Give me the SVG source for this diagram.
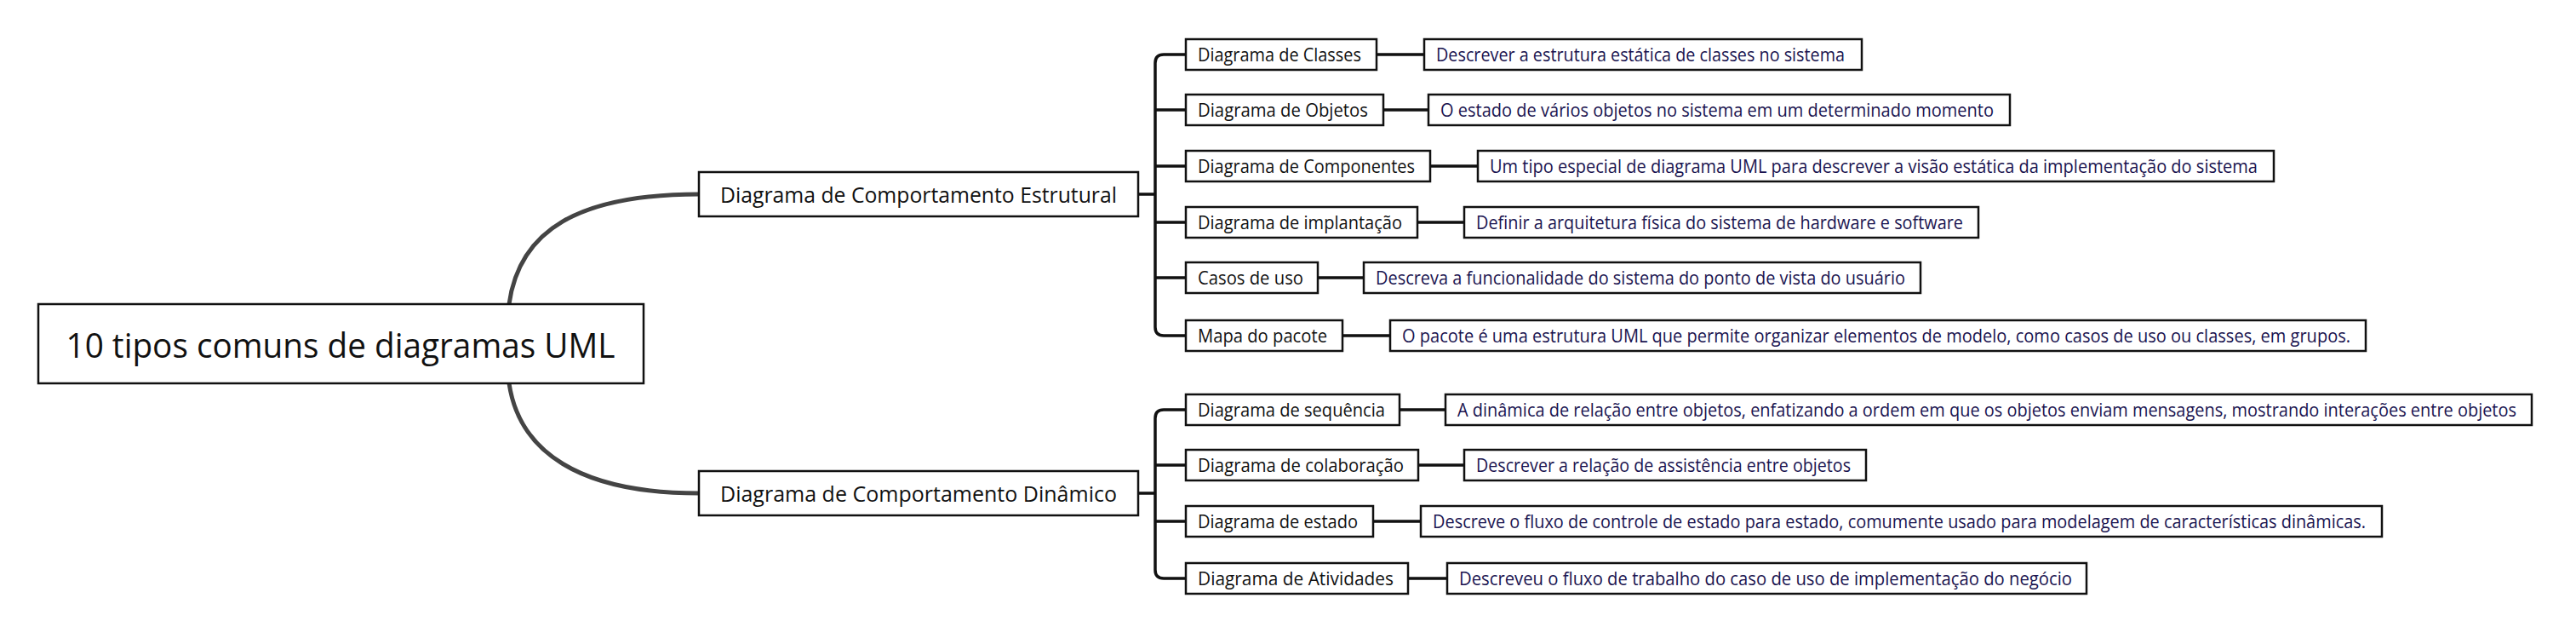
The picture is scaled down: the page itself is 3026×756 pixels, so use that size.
<svg xmlns="http://www.w3.org/2000/svg" width="3026" height="756" viewBox="0 0 3026 756">
<style>
.b{fill:#fff;stroke:#111;stroke-width:2.5}
.c{fill:none;stroke:#111;stroke-width:3.5}
.m{fill:none;stroke:#444;stroke-width:5}
text{font-family:"Open Sans","Noto Sans",sans-serif;dominant-baseline:central}
.l{font-size:21px;fill:#111}
.d{font-size:21px;fill:#1a1450}
</style>
<g id="connectors">
<path class="m" d="M598,357 C610,270 680,228 821,228"/>
<path class="m" d="M598,450 C610,530 680,579 821,579"/>
<path class="c" d="M1337,228 H1357"/>
<path class="c" d="M1337,579 H1357"/>
<path class="c" d="M1393,64 H1367 Q1357,64 1357,74 V384 Q1357,394 1367,394 H1393 M1357,129 H1393 M1357,195 H1393 M1357,261 H1393 M1357,326 H1393"/>
<path class="c" d="M1393,481 H1367 Q1357,481 1357,491 V669 Q1357,679 1367,679 H1393 M1357,546 H1393 M1357,612 H1393"/>
<path class="c" d="M1617,64H1673 M1625,129H1678 M1680,195H1736 M1665,261H1720 M1548,326H1602 M1577,394H1633 M1644,481H1698 M1666,546H1720 M1613,612H1669 M1654,679H1700"/>
</g>
<g id="root"><rect class="b" x="45" y="357" width="711" height="93" stroke-width="3.5"/><text x="400" y="404" font-size="40" text-anchor="middle" fill="#111" textLength="645" lengthAdjust="spacingAndGlyphs">10 tipos comuns de diagramas UML</text></g>
<g id="b1"><rect class="b" x="821" y="202" width="516" height="52"/><text x="1079" y="228" font-size="25" text-anchor="middle" fill="#111" textLength="466" lengthAdjust="spacingAndGlyphs">Diagrama de Comportamento Estrutural</text></g>
<g id="b2"><rect class="b" x="821" y="553" width="516" height="52"/><text x="1079" y="579" font-size="25" text-anchor="middle" fill="#111" textLength="466" lengthAdjust="spacingAndGlyphs">Diagrama de Comportamento Dinâmico</text></g>
<g id="n1"><rect class="b" x="1393" y="46" width="224" height="36"/><text class="l" x="1407" y="64" textLength="192" lengthAdjust="spacingAndGlyphs">Diagrama de Classes</text></g>
<g id="d1"><rect class="b" x="1673" y="46" width="514" height="36"/><text class="d" x="1687" y="64" textLength="480" lengthAdjust="spacingAndGlyphs">Descrever a estrutura estática de classes no sistema</text></g>
<g id="n2"><rect class="b" x="1393" y="111" width="232" height="36"/><text class="l" x="1407" y="129" textLength="200" lengthAdjust="spacingAndGlyphs">Diagrama de Objetos</text></g>
<g id="d2"><rect class="b" x="1678" y="111" width="683" height="36"/><text class="d" x="1692" y="129" textLength="650" lengthAdjust="spacingAndGlyphs">O estado de vários objetos no sistema em um determinado momento</text></g>
<g id="n3"><rect class="b" x="1393" y="177" width="287" height="36"/><text class="l" x="1407" y="195" textLength="255" lengthAdjust="spacingAndGlyphs">Diagrama de Componentes</text></g>
<g id="d3"><rect class="b" x="1736" y="177" width="935" height="36"/><text class="d" x="1750" y="195" textLength="902" lengthAdjust="spacingAndGlyphs">Um tipo especial de diagrama UML para descrever a visão estática da implementação do sistema</text></g>
<g id="n4"><rect class="b" x="1393" y="243" width="272" height="36"/><text class="l" x="1407" y="261" textLength="240" lengthAdjust="spacingAndGlyphs">Diagrama de implantação</text></g>
<g id="d4"><rect class="b" x="1720" y="243" width="604" height="36"/><text class="d" x="1734" y="261" textLength="572" lengthAdjust="spacingAndGlyphs">Definir a arquitetura física do sistema de hardware e software</text></g>
<g id="n5"><rect class="b" x="1393" y="308" width="155" height="36"/><text class="l" x="1407" y="326" textLength="124" lengthAdjust="spacingAndGlyphs">Casos de uso</text></g>
<g id="d5"><rect class="b" x="1602" y="308" width="654" height="36"/><text class="d" x="1616" y="326" textLength="622" lengthAdjust="spacingAndGlyphs">Descreva a funcionalidade do sistema do ponto de vista do usuário</text></g>
<g id="n6"><rect class="b" x="1393" y="376" width="184" height="36"/><text class="l" x="1407" y="394" textLength="152" lengthAdjust="spacingAndGlyphs">Mapa do pacote</text></g>
<g id="d6"><rect class="b" x="1633" y="376" width="1146" height="36"/><text class="d" x="1647" y="394" textLength="1114" lengthAdjust="spacingAndGlyphs">O pacote é uma estrutura UML que permite organizar elementos de modelo, como casos de uso ou classes, em grupos.</text></g>
<g id="n7"><rect class="b" x="1393" y="463" width="251" height="36"/><text class="l" x="1407" y="481" textLength="220" lengthAdjust="spacingAndGlyphs">Diagrama de sequência</text></g>
<g id="d7"><rect class="b" x="1698" y="463" width="1276" height="36"/><text class="d" x="1712" y="481" textLength="1244" lengthAdjust="spacingAndGlyphs">A dinâmica de relação entre objetos, enfatizando a ordem em que os objetos enviam mensagens, mostrando interações entre objetos</text></g>
<g id="n8"><rect class="b" x="1393" y="528" width="273" height="36"/><text class="l" x="1407" y="546" textLength="242" lengthAdjust="spacingAndGlyphs">Diagrama de colaboração</text></g>
<g id="d8"><rect class="b" x="1720" y="528" width="472" height="36"/><text class="d" x="1734" y="546" textLength="440" lengthAdjust="spacingAndGlyphs">Descrever a relação de assistência entre objetos</text></g>
<g id="n9"><rect class="b" x="1393" y="594" width="220" height="36"/><text class="l" x="1407" y="612" textLength="188" lengthAdjust="spacingAndGlyphs">Diagrama de estado</text></g>
<g id="d9"><rect class="b" x="1669" y="594" width="1129" height="36"/><text class="d" x="1683" y="612" textLength="1096" lengthAdjust="spacingAndGlyphs">Descreve o fluxo de controle de estado para estado, comumente usado para modelagem de características dinâmicas.</text></g>
<g id="n10"><rect class="b" x="1393" y="661" width="261" height="36"/><text class="l" x="1407" y="679" textLength="230" lengthAdjust="spacingAndGlyphs">Diagrama de Atividades</text></g>
<g id="d10"><rect class="b" x="1700" y="661" width="751" height="36"/><text class="d" x="1714" y="679" textLength="720" lengthAdjust="spacingAndGlyphs">Descreveu o fluxo de trabalho do caso de uso de implementação do negócio</text></g>
</svg>
